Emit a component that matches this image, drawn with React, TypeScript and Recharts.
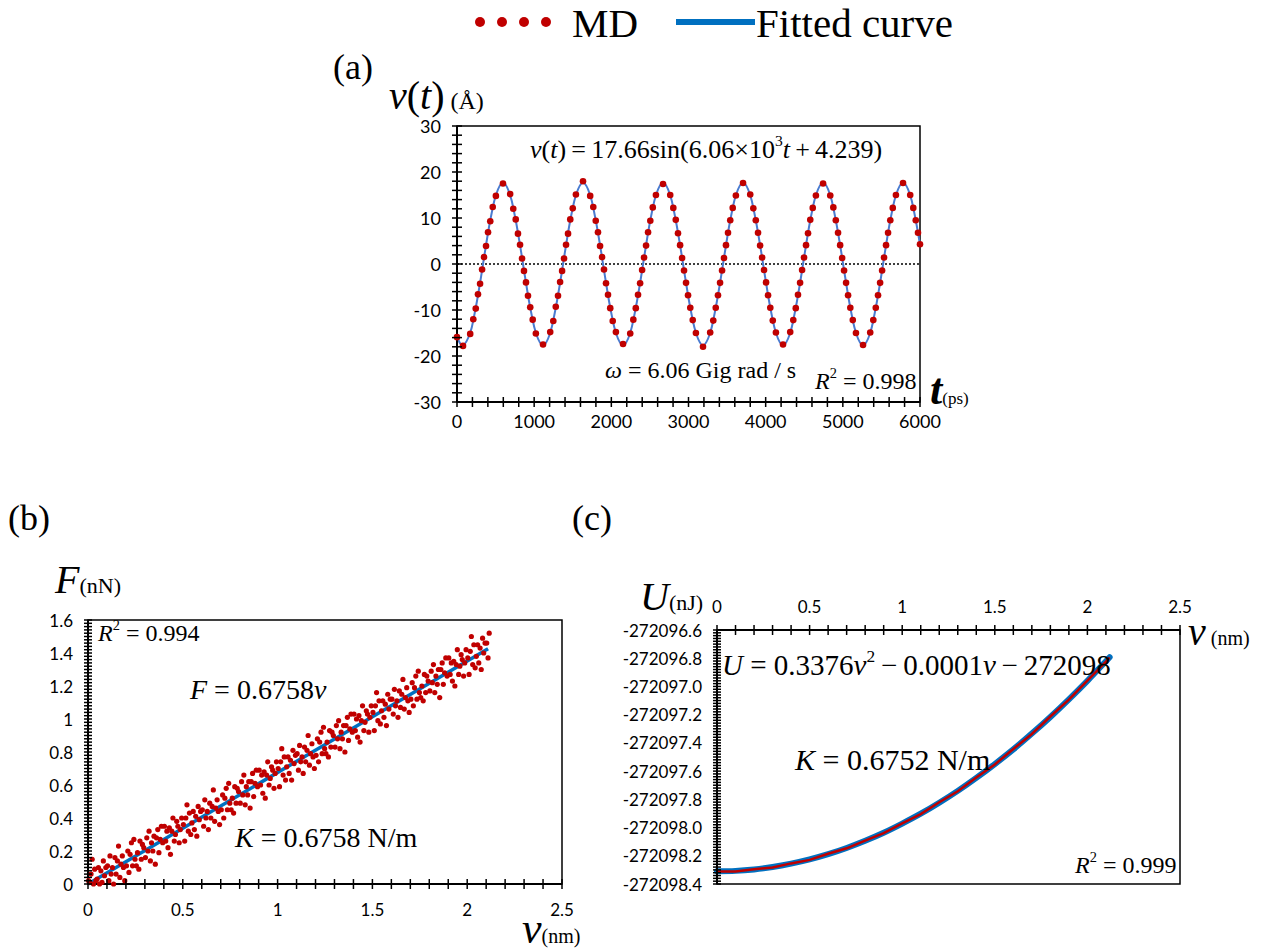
import React from "react";
import {
  ComposedChart,
  XAxis,
  YAxis,
  Scatter,
  Line,
  ReferenceLine,
  ReferenceArea,
} from "recharts";

// ---------- (a) displacement vs time ----------
// MD samples (t in ps, v in Å)
const mdTime = [
  0,
  78, 171, 211, 243, 272, 299, 325, 350, 376, 402, 431, 463, 504,
  596, 689, 729, 761, 790, 817, 843, 868, 894, 920, 949, 981, 1022,
  1115, 1208, 1248, 1280, 1309, 1336, 1362, 1387, 1413, 1439, 1468, 1500, 1541,
  1633, 1726, 1766, 1798, 1827, 1854, 1880, 1905, 1931, 1957, 1986, 2018, 2059,
  2152, 2245, 2285, 2317, 2346, 2373, 2399, 2424, 2450, 2476, 2505, 2537, 2578,
  2670, 2763, 2803, 2835, 2864, 2891, 2917, 2942, 2968, 2994, 3023, 3055, 3096,
  3188, 3281, 3321, 3353, 3382, 3409, 3435, 3460, 3486, 3512, 3541, 3573, 3614,
  3707, 3800, 3840, 3872, 3901, 3928, 3954, 3979, 4005, 4031, 4060, 4092, 4133,
  4225, 4318, 4358, 4390, 4419, 4446, 4472, 4497, 4523, 4549, 4578, 4610, 4651,
  4744, 4837, 4877, 4909, 4938, 4965, 4991, 5016, 5042, 5068, 5097, 5129, 5170,
  5262, 5355, 5395, 5427, 5456, 5483, 5509, 5534, 5560, 5586, 5615, 5647, 5688,
  5780, 5873, 5913, 5945, 5974, 6000,
];
const mdDisp = [
  -15.9,
  -17.8, -15.2, -12.0, -9.7, -6.6, -4.3, -1.2, 1.5, 3.9, 6.9, 9.3, 12.4, 14.8,
  17.5, 15.2, 12.0, 9.7, 6.6, 4.2, 1.2, -1.5, -4.0, -6.9, -9.4, -12.1, -15.1,
  -17.5, -14.8, -12.4, -9.3, -6.9, -3.9, -1.5, 1.2, 4.2, 6.6, 9.7, 12.1, 15.1,
  18.0, 14.8, 12.4, 9.4, 6.9, 3.9, 1.5, -1.2, -4.2, -6.7, -9.6, -12.4, -14.8,
  -17.4, -15.1, -12.1, -9.6, -6.7, -4.2, -1.3, 1.4, 4.0, 6.9, 9.4, 12.3, 15.0,
  17.4, 15.0, 12.2, 9.6, 6.7, 4.1, 1.3, -1.4, -4.1, -6.8, -9.5, -12.2, -15.0,
  -18.0, -14.9, -12.3, -9.5, -6.8, -4.1, -1.4, 1.3, 4.1, 6.8, 9.5, 12.2, 14.9,
  17.6, 15.1, 12.1, 9.5, 6.8, 4.0, 1.4, -1.3, -4.0, -6.8, -9.5, -12.3, -14.9,
  -17.5, -14.8, -12.2, -9.6, -6.7, -4.1, -1.3, 1.4, 4.1, 6.7, 9.6, 12.2, 14.9,
  17.5, 14.9, 12.3, 9.5, 6.8, 4.1, 1.3, -1.4, -4.1, -6.8, -9.5, -12.2, -15.0,
  -17.6, -14.9, -12.2, -9.5, -6.8, -4.1, -1.4, 1.4, 4.1, 6.8, 9.5, 12.2, 15.0,
  17.6, 15.0, 12.2, 9.5, 6.8, 4.3,
];
// fitted curve read at the same times
const fitDisp = [
  -15.72,
  -17.66, -14.94, -12.23, -9.51, -6.79, -4.08, -1.36, 1.36, 4.08, 6.79, 9.51, 12.23, 14.94,
  17.66, 14.94, 12.23, 9.51, 6.79, 4.08, 1.36, -1.36, -4.08, -6.79, -9.51, -12.23, -14.94,
  -17.66, -14.94, -12.23, -9.51, -6.79, -4.08, -1.36, 1.36, 4.08, 6.79, 9.51, 12.23, 14.94,
  17.66, 14.94, 12.23, 9.51, 6.79, 4.08, 1.36, -1.36, -4.08, -6.79, -9.51, -12.23, -14.94,
  -17.66, -14.94, -12.23, -9.51, -6.79, -4.08, -1.36, 1.36, 4.08, 6.79, 9.51, 12.23, 14.94,
  17.66, 14.94, 12.23, 9.51, 6.79, 4.08, 1.36, -1.36, -4.08, -6.79, -9.51, -12.23, -14.94,
  -17.66, -14.94, -12.23, -9.51, -6.79, -4.08, -1.36, 1.36, 4.08, 6.79, 9.51, 12.23, 14.94,
  17.66, 14.94, 12.23, 9.51, 6.79, 4.08, 1.36, -1.36, -4.08, -6.79, -9.51, -12.23, -14.94,
  -17.66, -14.94, -12.23, -9.51, -6.79, -4.08, -1.36, 1.36, 4.08, 6.79, 9.51, 12.23, 14.94,
  17.66, 14.94, 12.23, 9.51, 6.79, 4.08, 1.36, -1.36, -4.08, -6.79, -9.51, -12.23, -14.94,
  -17.66, -14.94, -12.23, -9.51, -6.79, -4.08, -1.36, 1.36, 4.08, 6.79, 9.51, 12.23, 14.94,
  17.66, 14.94, 12.23, 9.51, 6.79, 4.2,
];
const aXLabels = ["0", "1000", "2000", "3000", "4000", "5000", "6000"];
const aYLabels = ["-30", "-20", "-10", "0", "10", "20", "30"];

// ---------- (b) force vs displacement ----------
const forceV = [
  0.003, 0.010, 0.016, 0.022, 0.029, 0.035, 0.042, 0.048, 0.055, 0.061, 0.068, 0.074, 0.081, 0.087, 0.094,
  0.103, 0.110, 0.116, 0.122, 0.129, 0.135, 0.142, 0.148, 0.155, 0.161, 0.168, 0.174, 0.181, 0.187, 0.194,
  0.203, 0.210, 0.216, 0.222, 0.229, 0.235, 0.242, 0.248, 0.255, 0.261, 0.268, 0.274, 0.281, 0.287, 0.294,
  0.303, 0.310, 0.316, 0.322, 0.329, 0.335, 0.342, 0.348, 0.355, 0.361, 0.368, 0.374, 0.381, 0.387, 0.394,
  0.403, 0.410, 0.416, 0.422, 0.429, 0.435, 0.442, 0.448, 0.455, 0.461, 0.468, 0.474, 0.481, 0.487, 0.494,
  0.503, 0.510, 0.516, 0.522, 0.529, 0.535, 0.542, 0.548, 0.555, 0.561, 0.568, 0.574, 0.581, 0.587, 0.594,
  0.603, 0.610, 0.616, 0.622, 0.629, 0.635, 0.642, 0.648, 0.655, 0.661, 0.668, 0.674, 0.681, 0.687, 0.694,
  0.703, 0.710, 0.716, 0.722, 0.729, 0.735, 0.742, 0.748, 0.755, 0.761, 0.768, 0.774, 0.781, 0.787, 0.794,
  0.803, 0.810, 0.816, 0.822, 0.829, 0.835, 0.842, 0.848, 0.855, 0.861, 0.868, 0.874, 0.881, 0.887, 0.894,
  0.903, 0.910, 0.916, 0.922, 0.929, 0.935, 0.942, 0.948, 0.955, 0.961, 0.968, 0.974, 0.981, 0.987, 0.994,
  1.003, 1.010, 1.016, 1.022, 1.029, 1.035, 1.042, 1.048, 1.055, 1.061, 1.068, 1.074, 1.081, 1.087, 1.094,
  1.103, 1.110, 1.116, 1.122, 1.129, 1.135, 1.142, 1.148, 1.155, 1.161, 1.168, 1.174, 1.181, 1.187, 1.194,
  1.203, 1.210, 1.216, 1.222, 1.229, 1.235, 1.242, 1.248, 1.255, 1.261, 1.268, 1.274, 1.281, 1.287, 1.294,
  1.303, 1.310, 1.316, 1.322, 1.329, 1.335, 1.342, 1.348, 1.355, 1.361, 1.368, 1.374, 1.381, 1.387, 1.394,
  1.403, 1.410, 1.416, 1.422, 1.429, 1.435, 1.442, 1.448, 1.455, 1.461, 1.468, 1.474, 1.481, 1.487, 1.494,
  1.503, 1.510, 1.516, 1.522, 1.529, 1.535, 1.542, 1.548, 1.555, 1.561, 1.568, 1.574, 1.581, 1.587, 1.594,
  1.603, 1.610, 1.616, 1.622, 1.629, 1.635, 1.642, 1.648, 1.655, 1.661, 1.668, 1.674, 1.681, 1.687, 1.694,
  1.703, 1.710, 1.716, 1.722, 1.729, 1.735, 1.742, 1.748, 1.755, 1.761, 1.768, 1.774, 1.781, 1.787, 1.794,
  1.803, 1.810, 1.816, 1.822, 1.829, 1.835, 1.842, 1.848, 1.855, 1.861, 1.868, 1.874, 1.881, 1.887, 1.894,
  1.903, 1.910, 1.916, 1.922, 1.929, 1.935, 1.942, 1.948, 1.955, 1.961, 1.968, 1.974, 1.981, 1.987, 1.994,
  2.003, 2.010, 2.016, 2.022, 2.029, 2.035, 2.042, 2.048, 2.055, 2.061, 2.068, 2.074, 2.081, 2.087, 2.094,
  2.103, 2.110, 2.116,
];
const forceF = [
  0.02, 0.01, 0.06, 0.15, 0.00, 0.09, 0.02, 0.03, 0.10, 0.00, 0.08, 0.01, 0.14, 0.05, 0.10,
  0.11, 0.02, 0.17, 0.06, 0.10, 0.00, 0.16, 0.06, 0.14, 0.23, 0.04, 0.12, 0.17, 0.10, 0.02,
  0.11, 0.20, 0.07, 0.18, 0.25, 0.11, 0.27, 0.15, 0.11, 0.19, 0.09, 0.26, 0.15, 0.24, 0.22,
  0.16, 0.28, 0.20, 0.32, 0.14, 0.25, 0.20, 0.29, 0.12, 0.28, 0.33, 0.19, 0.27, 0.35, 0.25,
  0.35, 0.26, 0.32, 0.22, 0.34, 0.18, 0.32, 0.40, 0.26, 0.30, 0.38, 0.35, 0.25, 0.33, 0.40,
  0.36, 0.26, 0.40, 0.48, 0.32, 0.43, 0.30, 0.37, 0.44, 0.33, 0.41, 0.29, 0.47, 0.39, 0.44,
  0.45, 0.35, 0.51, 0.40, 0.44, 0.33, 0.49, 0.40, 0.47, 0.57, 0.38, 0.46, 0.51, 0.44, 0.36,
  0.45, 0.54, 0.40, 0.52, 0.58, 0.45, 0.61, 0.49, 0.45, 0.52, 0.43, 0.59, 0.49, 0.58, 0.56,
  0.49, 0.62, 0.54, 0.66, 0.48, 0.59, 0.54, 0.62, 0.46, 0.62, 0.67, 0.53, 0.61, 0.69, 0.59,
  0.69, 0.60, 0.66, 0.55, 0.68, 0.52, 0.66, 0.74, 0.60, 0.64, 0.71, 0.69, 0.58, 0.67, 0.74,
  0.70, 0.59, 0.74, 0.82, 0.66, 0.77, 0.63, 0.71, 0.77, 0.67, 0.75, 0.63, 0.81, 0.73, 0.78,
  0.79, 0.69, 0.84, 0.74, 0.77, 0.67, 0.83, 0.74, 0.81, 0.90, 0.72, 0.79, 0.85, 0.77, 0.70,
  0.78, 0.88, 0.74, 0.86, 0.92, 0.79, 0.95, 0.82, 0.79, 0.86, 0.77, 0.93, 0.83, 0.92, 0.90,
  0.83, 0.96, 0.88, 0.99, 0.82, 0.92, 0.88, 0.96, 0.80, 0.96, 1.01, 0.87, 0.94, 1.03, 0.92,
  1.03, 0.93, 1.00, 0.89, 1.02, 0.86, 0.99, 1.08, 0.93, 0.98, 1.05, 1.03, 0.92, 1.01, 1.08,
  1.04, 0.93, 1.08, 1.16, 0.99, 1.11, 0.97, 1.05, 1.11, 1.01, 1.09, 0.96, 1.15, 1.06, 1.12,
  1.12, 1.03, 1.18, 1.08, 1.11, 1.01, 1.17, 1.07, 1.15, 1.24, 1.06, 1.13, 1.19, 1.11, 1.04,
  1.12, 1.22, 1.08, 1.19, 1.26, 1.12, 1.29, 1.16, 1.13, 1.20, 1.11, 1.27, 1.16, 1.26, 1.23,
  1.17, 1.29, 1.22, 1.33, 1.16, 1.26, 1.21, 1.30, 1.13, 1.30, 1.34, 1.21, 1.28, 1.37, 1.26,
  1.37, 1.27, 1.34, 1.23, 1.35, 1.20, 1.33, 1.42, 1.27, 1.32, 1.39, 1.36, 1.26, 1.34, 1.42,
  1.37, 1.27, 1.41, 1.50, 1.33, 1.45, 1.31, 1.38, 1.45, 1.34, 1.43, 1.30, 1.49, 1.40, 1.46,
  1.46, 1.37, 1.52,
];
const forceFitV = [0, 2.11];
const forceFitF = [0, 1.426];
const bXLabels = ["0", "0.5", "1", "1.5", "2", "2.5"];
const bYLabels = ["0", "0.2", "0.4", "0.6", "0.8", "1", "1.2", "1.4", "1.6"];

// ---------- (c) energy vs displacement ----------
const energyV = [0, 0.1, 0.2, 0.3, 0.4, 0.5, 0.6, 0.7, 0.8, 0.9, 1.0, 1.1, 1.2, 1.3, 1.4, 1.5, 1.6, 1.7, 1.8, 1.9, 2.0, 2.1, 2.12];
const energyMD = [
  -272098.312, -272098.311, -272098.295, -272098.283, -272098.254, -272098.229, -272098.186, -272098.147,
  -272098.092, -272098.04, -272097.97, -272097.905, -272097.821, -272097.743, -272097.646, -272097.553,
  -272097.443, -272097.337, -272097.213, -272097.094, -272096.958, -272096.824, -272096.795,
];
const energyFit = [
  -272098.31, -272098.307, -272098.297, -272098.28, -272098.256, -272098.226, -272098.189, -272098.145,
  -272098.094, -272098.037, -272097.972, -272097.902, -272097.824, -272097.74, -272097.648, -272097.55,
  -272097.446, -272097.334, -272097.216, -272097.091, -272096.96, -272096.821, -272096.793,
];
const cXLabels = ["0", "0.5", "1", "1.5", "2", "2.5"];
const cYLabels = [
  "-272098.4", "-272098.2", "-272098.0", "-272097.8", "-272097.6",
  "-272097.4", "-272097.2", "-272097.0", "-272096.8", "-272096.6",
];

const RED = "#c00000";
const BLUE = "#0070c0";
const SERIF = '"Liberation Serif", "Times New Roman", serif';
const SANS = 'Lato, "Open Sans", sans-serif';
const THIN = "\u2009";

const mdA = mdTime.map((t, i) => ({ t, v: mdDisp[i] }));
const fitA = mdTime.map((t, i) => ({ t, v: fitDisp[i] }));
const mdB = forceV.map((v, i) => ({ x: v, y: forceF[i] }));
const fitB = forceFitV.map((v, i) => ({ x: v, y: forceFitF[i] }));
const mdC = energyV.map((v, i) => ({ x: v, y: energyMD[i] }));
const fitC = energyV.map((v, i) => ({ x: v, y: energyFit[i] }));

function tickList(start: number, step: number, n: number) {
  const out: number[] = [];
  for (let i = 0; i <= n; i++) out.push(+(start + i * step).toFixed(4));
  return out;
}

// cross-shaped tick marks, label only on every `every`-th tick
function crossTick(
  side: "left" | "bottom" | "top",
  start: number,
  step: number,
  every: number,
  labels: string[],
  half: number,
  gap: number,
  fontSize: number
) {
  return (p: any) => {
    const { x, y } = p;
    const k = Math.round((Number(p.payload.value) - start) / step);
    const label = k % every === 0 ? labels[k / every] : null;
    if (side === "left") {
      return (
        <g>
          <line x1={x - half} x2={x + half} y1={y} y2={y} stroke="#000" strokeWidth={1.5} />
          {label && (
            <text x={x - gap} y={y} textAnchor="end" dominantBaseline="central" fontSize={fontSize} fontFamily={SANS} fill="#000">
              {label}
            </text>
          )}
        </g>
      );
    }
    const ty = side === "bottom" ? y + gap : y - gap;
    return (
      <g>
        <line x1={x} x2={x} y1={y - half} y2={y + half} stroke="#000" strokeWidth={1.5} />
        {label && (
          <text x={x} y={ty} textAnchor="middle" dominantBaseline="central" fontSize={fontSize} fontFamily={SANS} fill="#000">
            {label}
          </text>
        )}
      </g>
    );
  };
}

const dot = (r: number) => (p: any) => <circle cx={p.cx} cy={p.cy} r={r} fill={RED} />;

const Sup = ({ children }: { children: React.ReactNode }) => (
  <span style={{ fontSize: "0.6em", position: "relative", top: "-0.75em" }}>{children}</span>
);

const Note = ({ left, top, size, lh = 1, children }: { left: number; top: number; size: number; lh?: number; children: React.ReactNode }) => (
  <div style={{ position: "absolute", left, top, fontSize: size, fontFamily: SERIF, lineHeight: lh, whiteSpace: "nowrap", color: "#000" }}>
    {children}
  </div>
);

const axisStyle = { stroke: "#000", strokeWidth: 2 };

function PanelA() {
  return (
    <ComposedChart width={560} height={322} margin={{ top: 16, right: 40, bottom: 0, left: 0 }}>
      <XAxis
        type="number" dataKey="t" domain={[0, 6000]} ticks={tickList(0, 200, 30)} interval={0}
        tickLine={false} tickSize={0} tickMargin={0} axisLine={axisStyle} height={30}
        tick={crossTick("bottom", 0, 200, 5, aXLabels, 5, 19, 18)}
      />
      <YAxis
        type="number" domain={[-30, 30]} ticks={tickList(-30, 2, 30)} interval={0}
        tickLine={false} tickSize={0} tickMargin={0} axisLine={axisStyle} width={57}
        tick={crossTick("left", -30, 2, 5, aYLabels, 5, 16, 18)}
      />
      <ReferenceArea x1={0} x2={6000} y1={-30} y2={30} fill="none" stroke="#000" strokeWidth={1.5} />
      <ReferenceLine y={0} stroke="#000" strokeWidth={1.5} strokeDasharray="2 2" />
      <Scatter data={mdA} dataKey="v" shape={dot(3.3)} isAnimationActive={false} />
      <Line data={fitA} dataKey="v" type="natural" stroke="#4a7bd0" strokeWidth={2} dot={false} isAnimationActive={false} />
    </ComposedChart>
  );
}

function PanelB() {
  return (
    <ComposedChart width={590} height={320} margin={{ top: 16, right: 28, bottom: 0, left: 0 }}>
      <XAxis
        type="number" dataKey="x" domain={[0, 2.5]} ticks={tickList(0, 0.1, 25)} interval={0}
        tickLine={false} tickSize={0} tickMargin={0} axisLine={axisStyle} height={40}
        tick={crossTick("bottom", 0, 0.1, 5, bXLabels, 5, 25, 17)}
      />
      <YAxis
        type="number" domain={[0, 1.6]} ticks={tickList(0, 0.02, 80)} interval={0}
        tickLine={false} tickSize={0} tickMargin={0} axisLine={axisStyle} width={88}
        tick={crossTick("left", 0, 0.02, 10, bYLabels, 4, 15, 17)}
      />
      <ReferenceArea x1={0} x2={2.5} y1={0} y2={1.6} fill="none" stroke="#000" strokeWidth={1.5} />
      <Scatter data={mdB} dataKey="y" shape={dot(2.6)} isAnimationActive={false} />
      <Line data={fitB} dataKey="y" type="linear" stroke={BLUE} strokeWidth={3.5} dot={false} isAnimationActive={false} />
    </ComposedChart>
  );
}

function PanelC() {
  return (
    <ComposedChart width={605} height={304} margin={{ top: 0, right: 25, bottom: 10, left: 0 }}>
      <XAxis
        type="number" dataKey="x" orientation="top" domain={[0, 2.5]} ticks={tickList(0, 0.1, 25)} interval={0}
        tickLine={false} tickSize={0} tickMargin={0} axisLine={axisStyle} height={40}
        tick={crossTick("top", 0, 0.1, 5, cXLabels, 5, 24, 17)}
      />
      <YAxis
        type="number" domain={[-272098.4, -272096.6]} ticks={tickList(-272098.4, 0.02, 90)} interval={0}
        tickLine={false} tickSize={0} tickMargin={0} axisLine={axisStyle} width={117}
        tick={crossTick("left", -272098.4, 0.02, 10, cYLabels, 4, 15, 17)}
      />
      <ReferenceArea x1={0} x2={2.5} y1={-272098.4} y2={-272096.6} fill="none" stroke="#000" strokeWidth={1.5} />
      <Line data={fitC} dataKey="y" type="monotone" stroke={BLUE} strokeWidth={6} strokeLinecap="round" dot={false} isAnimationActive={false} />
      <Line data={mdC} dataKey="y" type="linear" stroke={RED} strokeWidth={2.5} dot={false} isAnimationActive={false} />
    </ComposedChart>
  );
}

export default function App() {
  return (
    <div style={{ position: "absolute", left: 0, top: 0, width: 1262, height: 952, background: "#fff", overflow: "hidden" }}>
      {/* legend */}
      <svg style={{ position: "absolute", left: 0, top: 0 }} width={1262} height={60}>
        {[480, 502, 524, 546].map((cx) => (
          <circle key={cx} cx={cx} cy={22} r={5} fill={RED} />
        ))}
        <text x={572} y={37} fontSize={41} fontFamily={SERIF} fill="#000">MD</text>
        <rect x={676} y={19} width={79} height={6} fill={BLUE} />
        <text x={756} y={37} fontSize={41} fontFamily={SERIF} fill="#000">Fitted curve</text>
      </svg>

      <div style={{ position: "absolute", left: 400, top: 110 }}>
        <PanelA />
      </div>
      <div style={{ position: "absolute", left: 0, top: 604 }}>
        <PanelB />
      </div>
      <div style={{ position: "absolute", left: 600, top: 590 }}>
        <PanelC />
      </div>

      {/* (a) texts */}
      <Note left={333} top={49} size={36}>(a)</Note>
      <Note left={389} top={77} size={40} lh={0.95}>
        <i>v</i>(<i>t</i>)<span style={{ fontSize: 24 }}> (Å)</span>
      </Note>
      <Note left={530} top={137} size={26}>
        <i>v</i>(<i>t</i>){THIN}={THIN}17.66sin(6.06×10<Sup>3</Sup><i>t</i>{THIN}+{THIN}4.239)
      </Note>
      <Note left={605} top={358} size={24}>
        <i>ω</i> = 6.06 Gig rad / s
      </Note>
      <Note left={815} top={369} size={24}>
        <i>R</i><Sup>2</Sup> = 0.998
      </Note>
      <Note left={930} top={368} size={44}>
        <b><i>t</i></b><span style={{ fontSize: 17 }}>(ps)</span>
      </Note>

      {/* (b) texts */}
      <Note left={8} top={500} size={36}>(b)</Note>
      <Note left={55} top={560} size={40}>
        <i>F</i><span style={{ fontSize: 22 }}>(nN)</span>
      </Note>
      <Note left={98} top={621} size={24}>
        <i>R</i><Sup>2</Sup> = 0.994
      </Note>
      <Note left={190} top={676} size={28}>
        <i>F</i> = 0.6758<i>v</i>
      </Note>
      <Note left={235} top={824} size={28}>
        <i>K</i> = 0.6758 N/m
      </Note>
      <Note left={522} top={908} size={44} lh={0.95}>
        <i>v</i><span style={{ fontSize: 20 }}>(nm)</span>
      </Note>

      {/* (c) texts */}
      <Note left={572} top={500} size={36}>(c)</Note>
      <Note left={640} top={577} size={40}>
        <i>U</i><span style={{ fontSize: 22 }}>(nJ)</span>
      </Note>
      <Note left={1188} top={612} size={40}>
        <i>v</i><span style={{ fontSize: 20 }}> (nm)</span>
      </Note>
      <Note left={722} top={651} size={29}>
        <i>U</i> = 0.3376<i>v</i><Sup>2</Sup>{THIN}−{THIN}0.0001<i>v</i>{THIN}−{THIN}272098
      </Note>
      <Note left={795} top={745} size={30}>
        <i>K</i> = 0.6752 N/m
      </Note>
      <Note left={1075} top={853} size={24}>
        <i>R</i><Sup>2</Sup> = 0.999
      </Note>
    </div>
  );
}
